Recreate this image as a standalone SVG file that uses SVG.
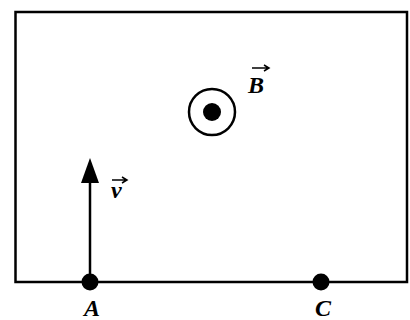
<svg xmlns="http://www.w3.org/2000/svg" width="410" height="320" viewBox="0 0 410 320">
<style>
.ln{stroke:#000;stroke-width:2.5;fill:none}
.lb{font-family:"Liberation Serif","DejaVu Serif",serif;font-style:italic;font-weight:bold;fill:#000;font-size:24px}
.va{stroke:#000;stroke-width:1.5;fill:none}
</style>
<rect x="0" y="0" width="410" height="320" fill="#fff"/>
<g id="box"><rect class="ln" x="15.5" y="12" width="391.5" height="270"/></g>
<g id="field">
<circle class="ln" cx="212" cy="112" r="23"/>
<circle cx="212" cy="112" r="9" fill="#000"/>
<text class="lb" x="248" y="93">B</text>
<path class="va" d="M252 68 L268 68 M264 65 L269 68 L264 71"/>
</g>
<g id="connectors">
<line class="ln" x1="90" y1="282" x2="90" y2="180"/>
<polygon points="90,158 81,183 99,183" fill="#000"/>
</g>
<g id="v">
<text class="lb" x="111" y="198">v</text>
<path class="va" d="M112 180 L126 180 M122 177 L127 180 L122 183"/>
</g>
<g id="A">
<circle cx="90" cy="282" r="8.5" fill="#000"/>
<text class="lb" x="92" y="316" text-anchor="middle">A</text>
</g>
<g id="C">
<circle cx="321" cy="282" r="8.5" fill="#000"/>
<text class="lb" x="323" y="316" text-anchor="middle">C</text>
</g>
</svg>
